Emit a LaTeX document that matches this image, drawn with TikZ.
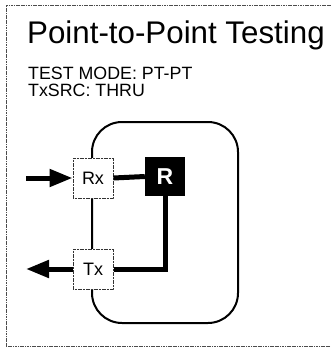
\documentclass[tikz,border=0pt]{standalone}
\usepackage{fontspec}
\setmainfont{Liberation Sans}
\usetikzlibrary{arrows.meta}
\tikzset{
  framestyle/.style={draw=black!70, line width=1pt, dash pattern=on 1.2pt off 0.5pt},
  blockbox/.style={draw=black!80, line width=1pt, dash pattern=on 1.2pt off 0.4pt, fill=white, minimum width=40pt, minimum height=40pt, inner sep=0pt, font=\fontsize{18}{18}\selectfont},
  rbox/.style={fill=black, minimum width=40pt, minimum height=39pt, inner sep=0pt, text=white, font=\fontsize{23}{23}\selectfont\bfseries},
  thickline/.style={line width=5pt},
  bigarrow/.style={line width=5pt, -{Triangle[length=23pt,width=17pt]}},
  loopline/.style={draw, line width=2pt, rounded corners=30pt},
  labeltext/.style={anchor=base west, inner sep=0pt, font=\fontsize{17.8}{17.8}\selectfont}
}
\begin{document}
\begin{tikzpicture}[x=1pt,y=-1pt]
\useasboundingbox (0,0) rectangle (331,348);
% frame
\draw[framestyle] (333,5) -- (6,5) -- (6,346) -- (333,346);
% texts
\node[anchor=base west, inner sep=0pt, font=\fontsize{31.3}{31.3}\selectfont] (title) at (27,43.3) {Point-to-Point Testing};
\node[labeltext] (mode) at (28,79.3) {TEST MODE: PT-PT};
\node[labeltext] (src) at (28,96.7) {TxSRC: THRU};
% loop
\draw[loopline] (92,122) rectangle (238,323);
% boxes
\node[blockbox] (rx) at (93,178) {Rx};
\node[blockbox] (tx) at (93,269) {Tx};
\node[rbox] (r) at (165,176.5) {R};
% connectors
\draw[thickline] (rx.east) -- (r.west);
\draw[thickline] (r.south) -- (r.south |- tx.east) -- (tx.east);
\coordinate (inStart) at (26,178);
\coordinate (outEnd) at (26,269);
\draw[bigarrow] (inStart) -- (rx.west);
\draw[bigarrow] (tx.west) -- (outEnd);
\end{tikzpicture}
\end{document}
